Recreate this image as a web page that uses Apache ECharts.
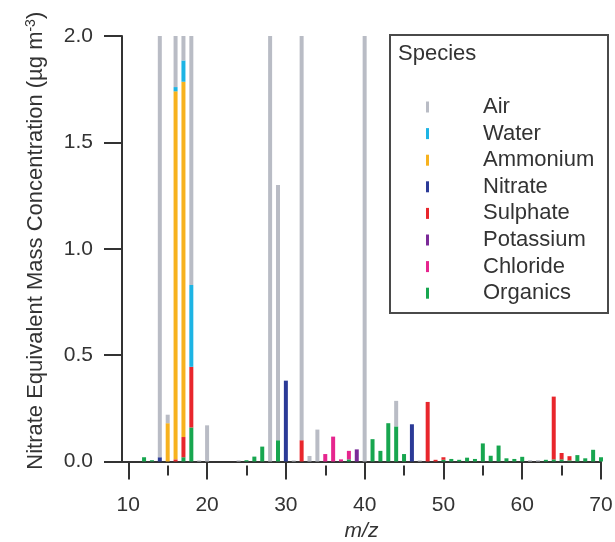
<!DOCTYPE html>
<html>
<head>
<meta charset="utf-8">
<script src="https://cdn.jsdelivr.net/npm/echarts@6/dist/echarts.min.js"></script>
<style>html,body{margin:0;padding:0;background:#fff}#c{width:615px;height:542px}</style>
</head>
<body>
<div id="c"></div>
<script>
// m/z values on the axis
const mzValues = [12,13,14,15,16,17,18,19,20,21,22,23,24,25,26,27,28,29,30,31,32,33,34,35,36,37,38,39,40,41,42,43,44,45,46,47,48,49,50,51,52,53,54,55,56,57,58,59,60,61,62,63,64,65,66,67,68,69,70];
const speciesNames = ['Air','Water','Ammonium','Nitrate','Sulphate','Potassium','Chloride','Organics'];
const speciesColors = ['#b9bcc5','#1db4e4','#f7b21e','#2b3a97','#e8262c','#7b2a98','#e6258e','#17a64f'];
// [m/z, value] pairs per species (segment heights, ug m-3)
const air = [[14,1.98],[15,0.04],[16,0.24],[17,0.12],[18,1.17],[19,0.005],[20,0.17],[24,0.005],[28,2.0],[29,1.2],[31,0.005],[32,1.9],[33,0.026],[34,0.15],[40,2.0],[44,0.12],[47,0.005],[61,0.006],[62,0.006]];
const water = [[16,0.02],[17,0.10],[18,0.385]];
const ammonium = [[15,0.18],[16,1.73],[17,1.67]];
const nitrate = [[14,0.02],[30,0.38],[46,0.175]];
const sulphate = [[16,0.01],[17,0.095],[18,0.285],[32,0.10],[48,0.28],[49,0.008],[50,0.012],[64,0.295],[65,0.03],[66,0.02]];
const potassium = [[39,0.057]];
const chloride = [[35,0.035],[36,0.117],[37,0.01],[38,0.04]];
const organics = [[12,0.02],[13,0.006],[17,0.02],[18,0.16],[25,0.006],[26,0.023],[27,0.07],[29,0.10],[38,0.01],[41,0.105],[42,0.05],[43,0.18],[44,0.165],[45,0.035],[50,0.008],[51,0.012],[52,0.008],[53,0.018],[54,0.012],[55,0.085],[56,0.027],[57,0.075],[58,0.015],[59,0.012],[60,0.022],[63,0.008],[64,0.01],[65,0.01],[66,0.005],[67,0.03],[68,0.015],[69,0.055],[70,0.02]];
const yTicks = [0, 0.5, 1.0, 1.5, 2.0];
const xMajor = [10,20,30,40,50,60,70];
const xMinor = [15,25,35,45,55,65];

const seriesData = {Air: air, Water: water, Ammonium: ammonium, Nitrate: nitrate, Sulphate: sulphate, Potassium: potassium, Chloride: chloride, Organics: organics};
// rows are [value, m/z] so the value dimension is the stacked one; aligned by index
function fullArray(pairs) {
  const m = new Map(pairs);
  return mzValues.map(x => [m.has(x) ? m.get(x) : 0, x]);
}
const FONT = 'Liberation Sans, Arial, sans-serif';
// stack bottom-up: Organics first ... Air last
const stackOrder = speciesNames.slice().reverse();
const series = stackOrder.map(name => ({
  name: name,
  type: 'bar',
  stack: 'total',
  barWidth: 4,
  encode: {x: 1, y: 0},
  data: fullArray(seriesData[name]),
  itemStyle: {color: speciesColors[speciesNames.indexOf(name)]},
  emphasis: {disabled: true},
  animation: false
}));

const chart = echarts.init(document.getElementById('c'), null, {renderer: 'canvas'});
chart.setOption({
  animation: false,
  backgroundColor: '#fff',
  textStyle: {fontFamily: FONT},
  grid: {left: 122, right: 14, top: 36, bottom: 80.5, containLabel: false, outerBoundsMode: 'none'},
  xAxis: [{
    type: 'value', min: 9.2, max: 70,
    offset: 4,
    axisLine: {show: true, lineStyle: {color: '#333', width: 2}},
    axisTick: {show: true, length: 18, customValues: xMajor, lineStyle: {color: '#333', width: 2}},
    axisLabel: {show: true, customValues: xMajor, margin: 29, color: '#333', fontSize: 21, fontFamily: FONT},
    splitLine: {show: false},
    name: 'm/z', nameLocation: 'middle', nameGap: 53,
    nameTextStyle: {fontStyle: 'italic', fontSize: 21, color: '#333', fontFamily: FONT}
  }, {
    type: 'value', min: 9.2, max: 70,
    offset: 4, position: 'bottom',
    axisLine: {show: false},
    axisTick: {show: true, length: 10, customValues: xMinor, lineStyle: {color: '#333', width: 2}},
    axisLabel: {show: false},
    splitLine: {show: false}
  }],
  yAxis: {
    type: 'value', min: 0, max: 2, interval: 0.5,
    axisLine: {show: true, lineStyle: {color: '#333', width: 2}},
    axisTick: {show: true, length: 18, lineStyle: {color: '#333', width: 2}},
    axisLabel: {margin: 29, color: '#333', fontSize: 21, fontFamily: FONT,
      formatter: v => v.toFixed(1)},
    splitLine: {show: false},
    name: 'Nitrate Equivalent Mass Concentration (µg m{sup|-3})',
    nameLocation: 'middle', nameGap: 74, nameRotate: 90,
    nameTextStyle: {fontSize: 22, color: '#333', fontFamily: FONT, padding: [0, 0, 0, 16],
      rich: {sup: {fontSize: 14, color: '#333', fontFamily: FONT, verticalAlign: 'top', padding: [0,0,10,0]}}}
  },
  legend: {
    data: speciesNames,
    orient: 'vertical',
    left: 421, top: 91,
    itemWidth: 3, itemHeight: 11, itemGap: 4.6,
    icon: 'rect',
    selectedMode: false,
    textStyle: {fontSize: 22, color: '#333', fontFamily: FONT, lineHeight: 20, padding: [0,0,0,49]}
  },
  graphic: [
    {type: 'rect', shape: {x: 390, y: 35, width: 218, height: 278}, style: {fill: 'none', stroke: '#4a4a4a', lineWidth: 2}, silent: true},
    {type: 'text', left: 398, top: 43, style: {text: 'Species', font: '22px ' + FONT, fill: '#333'}, silent: true}
  ],
  series: series
});
</script>
</body>
</html>
